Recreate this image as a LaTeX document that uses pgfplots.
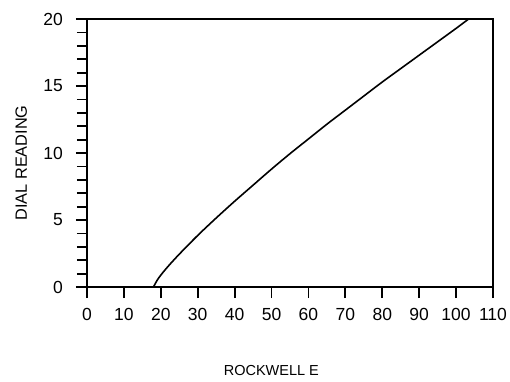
\documentclass[border=0pt]{standalone}
\usepackage{fontspec}
\setmainfont{Liberation Sans}
\usepackage{pgfplots}
\pgfplotsset{compat=1.18}
\begin{document}
\fontsize{15}{18}\selectfont
\begin{tikzpicture}
\begin{axis}[
  scale only axis,
  width=406pt, height=268pt,
  xmin=0, xmax=110, ymin=0, ymax=20,
  xtick={0,10,...,110},
  ytick={0,5,10,15,20},
  minor ytick={1,2,3,4,6,7,8,9,11,12,13,14,16,17,18,19},
  xtick pos=bottom, ytick pos=left,
  tick align=outside,
  major tick length=11pt, minor tick length=10pt,
  tick style={black, line width=1.8pt},
  axis line style={line width=1.9pt},
  /pgf/number format/assume math mode=true,
  ticklabel style={font=\fontsize{17.5}{20}\selectfont},
  yticklabel style={xshift=-8pt},
  xticklabel style={yshift=-5pt},
  xlabel={ROCKWELL E},
  ylabel={DIAL READING},
  xlabel style={font=\fontsize{14.5}{17}\selectfont, at={(axis description cs:0.454,-0.313)}, anchor=center},
  ylabel style={font=\fontsize{16.3}{19}\selectfont, at={(axis description cs:-0.162,0.463)}, anchor=center},
  clip=false,
]
\addplot[black, line width=1.6pt, smooth] coordinates {
 (18,0) (19,0.5) (20,0.89) (22,1.55) (25,2.45) (30,3.85) (35,5.15) (40,6.4)
 (45,7.6) (50,8.8) (55,9.95) (60,11.05) (65,12.15) (70,13.2) (75,14.25)
 (80,15.3) (85,16.3) (90,17.3) (95,18.3) (100,19.3) (103.4,20)
};
\end{axis}
\pgfresetboundingbox
\path (-87pt,-94pt) rectangle (423pt,287pt);
\end{tikzpicture}
\end{document}
